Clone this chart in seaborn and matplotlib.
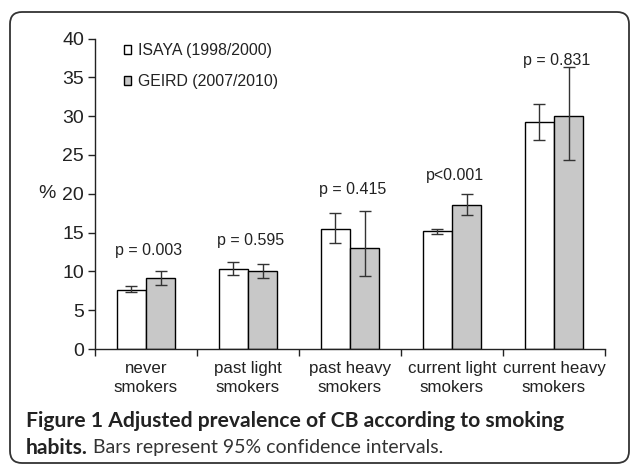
import numpy as np
import pandas as pd
import matplotlib
matplotlib.use('Agg')
import matplotlib.pyplot as plt
from matplotlib.patches import FancyBboxPatch
from matplotlib.transforms import IdentityTransform
import seaborn as sns

categories = ['never\nsmokers', 'past light\nsmokers', 'past heavy\nsmokers',
              'current light\nsmokers', 'current heavy\nsmokers']
studies = ['ISAYA (1998/2000)', 'GEIRD (2007/2010)']

isaya = [7.65, 10.3, 15.5, 15.15, 29.2]
isaya_lo = [7.3, 9.5, 13.6, 14.85, 26.9]
isaya_hi = [8.1, 11.2, 17.5, 15.5, 31.5]

geird = [9.1, 10.0, 13.0, 18.6, 30.0]
geird_lo = [8.3, 9.1, 9.4, 17.3, 24.3]
geird_hi = [10.0, 10.9, 17.8, 19.95, 36.3]

p_labels = ['p = 0.003', 'p = 0.595', 'p = 0.415', 'p<0.001', 'p = 0.831']
p_heights = [12.7, 14.0, 20.5, 22.4, 37.2]

df = pd.DataFrame({
    'category': categories * 2,
    'study': [studies[0]] * 5 + [studies[1]] * 5,
    'value': isaya + geird,
})

sns.set_style('white')
plt.rcParams['font.family'] = ['Liberation Sans', 'DejaVu Sans']

fig = plt.figure(figsize=(6.3, 4.66), dpi=100)
ax = fig.add_axes([95 / 630, 1 - 349 / 466, 510 / 630, (349 - 38.5) / 466])

sns.barplot(data=df, x='category', y='value', hue='study', order=categories,
            hue_order=studies, palette=['white', '#c8c8c8'], edgecolor='black',
            linewidth=1.0, width=0.575, errorbar=None, ax=ax)

# error bars at the centres of the drawn bars
bars = [p for p in ax.patches if p.get_height() > 0]
bars = sorted(bars, key=lambda p: p.get_x())
vals = []
for i in range(5):
    vals.append((isaya[i], isaya_lo[i], isaya_hi[i]))
    vals.append((geird[i], geird_lo[i], geird_hi[i]))
for b, (v, lo, hi) in zip(bars, vals):
    xc = b.get_x() + b.get_width() / 2
    ax.errorbar(xc, v, yerr=[[v - lo], [hi - v]], fmt='none', ecolor='#333333',
                elinewidth=1.0, capsize=4, capthick=1.0, zorder=5)

for i, (lab, h) in enumerate(zip(p_labels, p_heights)):
    ax.text(i + 0.03, h, lab, ha='center', va='center', fontsize=11.5, color='#222222')

ax.set_ylim(0, 40)
ax.set_xlim(-0.5, 4.5)
ax.set_yticks(range(0, 41, 5))
ax.set_xticks(np.arange(-0.5, 5, 1))
ax.set_xticklabels([])
ax.tick_params(axis='y', direction='out', length=5, width=1, labelsize=14, pad=3,
               left=True, color='#222222', labelcolor='#222222')
ax.tick_params(axis='x', direction='out', length=5, width=1, bottom=True, color='#222222')
for i, c in enumerate(categories):
    ax.text(i, -1.6, c, ha='center', va='top', fontsize=12.2, color='#222222',
            linespacing=1.3, transform=ax.transData)

ax.set_xlabel('')
ax.set_ylabel('%', rotation=0, fontsize=14, color='#222222', va='center', ha='center')
ax.yaxis.set_label_coords(-0.095, 0.5)
for s in ['top', 'right']:
    ax.spines[s].set_visible(False)
for s in ['left', 'bottom']:
    ax.spines[s].set_color('#222222')
    ax.spines[s].set_linewidth(1.0)

leg = ax.legend(loc='upper left', bbox_to_anchor=(0.045, 1.005), frameon=False,
                fontsize=11.4, handlelength=0.45, handleheight=0.45, handletextpad=0.4,
                labelspacing=1.0, borderaxespad=0)
for t in leg.get_texts():
    t.set_color('#222222')

# rounded frame round the figure, in pixels
frame = FancyBboxPatch((10, 3), 619, 451, boxstyle='round,pad=0,rounding_size=12',
                       transform=IdentityTransform(), fill=False, edgecolor='#333333',
                       linewidth=1.3, clip_on=False)
fig.patches.append(frame)

cap_font = ['Lato', 'DejaVu Sans']
fig.text(26 / 630, 1 - 421 / 466, 'Figure 1 Adjusted prevalence of CB according to smoking',
         fontsize=15.2, fontweight='bold', family=cap_font, va='center', color='#222222')
t1 = fig.text(26 / 630, 1 - 448 / 466, 'habits.', fontsize=15.2, fontweight='bold',
              family=cap_font, va='center', color='#222222')
fig.canvas.draw()
bb = t1.get_window_extent(renderer=fig.canvas.get_renderer())
fig.text(bb.x1 / fig.bbox.width + 5 / 630, 1 - 448 / 466,
         'Bars represent 95% confidence intervals.', fontsize=14,
         family=cap_font, va='center', color='#333333')

fig.savefig('out.png', dpi=100)
